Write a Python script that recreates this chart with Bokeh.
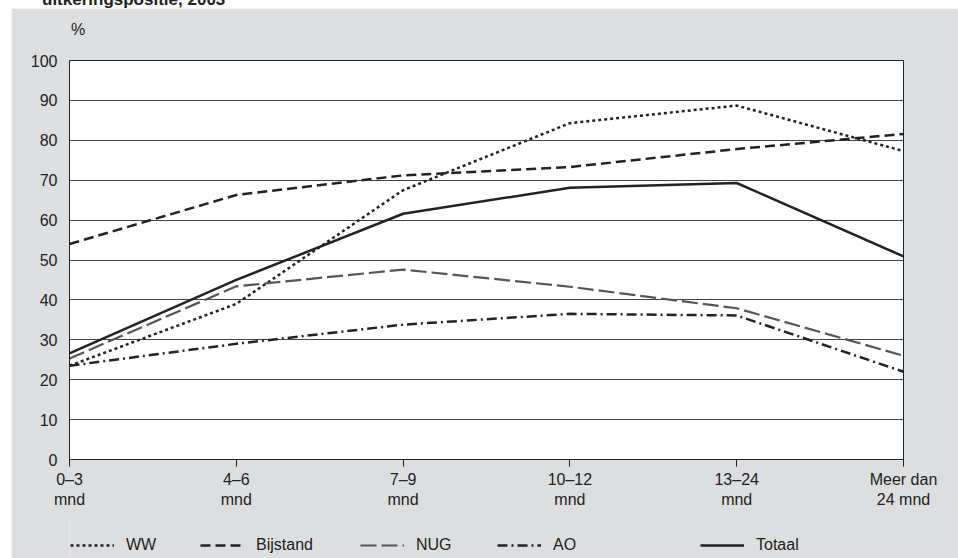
from bokeh.plotting import figure
from bokeh.models import Legend, LegendItem, FixedTicker, Range1d, Div
from bokeh.layouts import column
from bokeh.embed import file_html
from bokeh.resources import INLINE

title_text = "uitkeringspositie, 2003"
unit_text = "%"
categories = ["0–3\nmnd", "4–6\nmnd", "7–9\nmnd", "10–12\nmnd", "13–24\nmnd", "Meer dan\n24 mnd"]
ww = [23.5, 39, 67.5, 84.3, 88.7, 77.3]
bijstand = [54, 66.3, 71.2, 73.3, 77.8, 81.6]
nug = [25.3, 43.4, 47.6, 43.3, 37.9, 26]
ao = [23.5, 29, 33.8, 36.5, 36.1, 22]
totaal = [26.6, 45, 61.6, 68.1, 69.3, 50.9]
series_names = ["WW", "Bijstand", "NUG", "AO", "Totaal"]
y_ticks = list(range(0, 101, 10))

FONT = "Liberation Sans"
BG = "#dddee0"
INK = "#222222"

xs = list(range(len(categories)))

p = figure(frame_width=834, frame_height=399, output_backend="svg", toolbar_location=None,
           x_range=Range1d(0, len(categories) - 1), y_range=Range1d(0, 100),
           min_border_left=58, min_border_right=55, min_border_top=52, min_border_bottom=62,
           margin=(8, 0, 0, 11))
p.border_fill_color = BG
p.background_fill_color = "white"
p.outline_line_color = INK
p.outline_line_width = 1

p.xgrid.visible = False
p.ygrid.ticker = FixedTicker(ticks=y_ticks)
p.ygrid.grid_line_color = "#444444"
p.ygrid.grid_line_width = 1

p.yaxis.ticker = FixedTicker(ticks=y_ticks)
p.yaxis.major_tick_out = 0
p.yaxis.major_tick_in = 0
p.yaxis.minor_tick_out = 0
p.yaxis.minor_tick_in = 0
p.yaxis.major_label_standoff = 12
p.yaxis.axis_line_color = INK

p.xaxis.ticker = FixedTicker(ticks=xs)
p.xaxis.major_label_overrides = {i: c for i, c in enumerate(categories)}
p.xaxis.major_tick_out = 7
p.xaxis.major_tick_in = 0
p.xaxis.minor_tick_out = 0
p.xaxis.major_label_standoff = 4
p.xaxis.axis_line_color = INK
p.xaxis.major_tick_line_color = INK

for ax in (p.xaxis[0], p.yaxis[0]):
    ax.major_label_text_font = FONT
    ax.major_label_text_font_size = "16px"
    ax.major_label_text_color = INK

styles = [
    (ww, INK, 2.5, "3 3"),
    (bijstand, INK, 2.5, "10 5"),
    (nug, "#555555", 2.2, "16 5"),
    (ao, INK, 2.5, "10 4 2 4"),
    (totaal, INK, 2.5, "solid"),
]
for vals, color, w, dash in styles:
    p.line(xs, vals, line_color=color, line_width=w, line_dash=dash)

# legend strip below the chart (same grey panel)
pl = figure(frame_width=947, frame_height=38, output_backend="svg", toolbar_location=None,
            x_axis_type=None, y_axis_type=None, x_range=Range1d(0, 1), y_range=Range1d(0, 1),
            min_border=0, margin=(-1, 0, 0, 11))
pl.border_fill_color = BG
pl.background_fill_color = BG
pl.outline_line_color = None
pl.grid.visible = False

legend_x = [59, 189, 349, 486, 689]
for name, (vals, color, w, dash), lx in zip(series_names, styles, legend_x):
    # legend sample lines: their data lies outside this strip's visible range
    r = pl.line(xs, vals, line_color=color, line_width=w, line_dash=dash)
    lg = Legend(items=[LegendItem(label=name, renderers=[r])], location=(lx, 3),
                orientation="horizontal", background_fill_alpha=0, border_line_alpha=0,
                padding=0, margin=0, glyph_width=44, label_standoff=12,
                label_text_font=FONT, label_text_font_size="16px", label_text_color=INK)
    pl.add_layout(lg, "center")

div = Div(text=title_text, width=400, height=20,
          styles={"position": "absolute", "top": "-15px", "left": "37px", "z-index": "1",
                  "font-family": FONT, "font-weight": "bold", "font-size": "17px",
                  "line-height": "20px", "color": INK})
unit_div = Div(text=unit_text, width=30, height=20,
               styles={"position": "absolute", "top": "15px", "left": "66px", "z-index": "1",
                       "font-family": FONT, "font-size": "16px",
                       "line-height": "20px", "color": INK})

layout = column(div, unit_div, p, pl, spacing=0)
open("out.html", "w").write(file_html(layout, INLINE))
